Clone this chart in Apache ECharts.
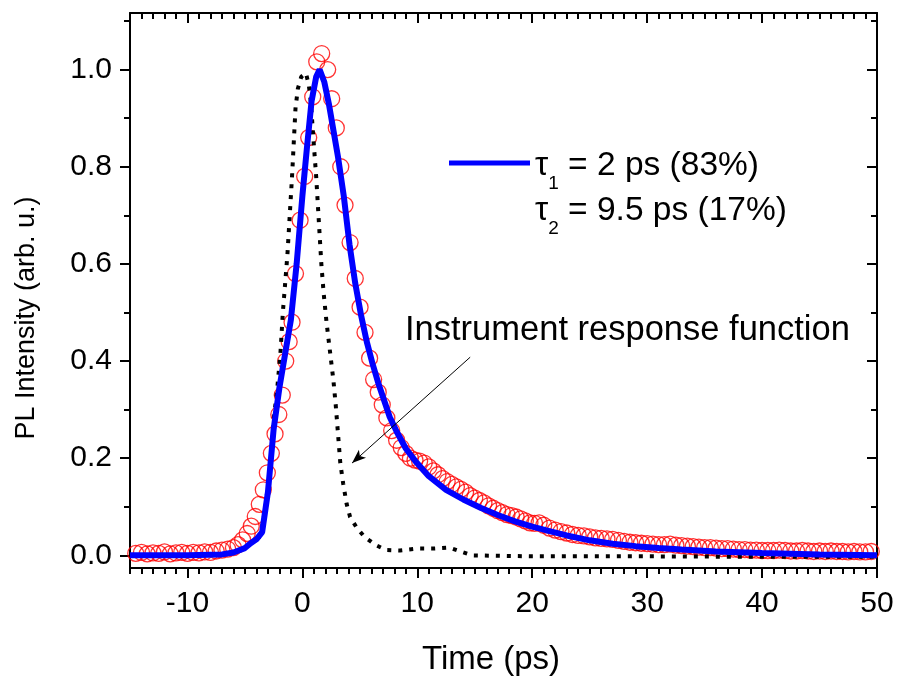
<!DOCTYPE html>
<html><head><meta charset="utf-8">
<script src="https://cdn.jsdelivr.net/npm/echarts@6/dist/echarts.min.js"></script>
<style>html,body{margin:0;padding:0;background:#fff}#c{width:901px;height:680px}</style>
</head><body><div id="c"></div>
<script>
// ---- tick labels ----
const xMajorTicks = [-10, 0, 10, 20, 30, 40, 50];
const yMajorTicks = [0, 0.2, 0.4, 0.6, 0.8, 1.0];
const yMinorTicks = [0.1, 0.3, 0.5, 0.7, 0.9, 1.1];

// ---- measured PL data (red circles) ----
const dataX = [-14.5,-14,-13.5,-13,-12.5,-12,-11.5,-11,-10.5,-10,-9.5,-9,-8.5,-8,-7.5,-7,-6.5,
  -6.0,-5.6,-5.2,-4.8,-4.45,-4.1,-3.75,-3.4,-3.05,-2.7,-2.38,-2.05,-1.75,-1.45,-1.15,-0.9,-0.6,-0.2,
  0.2,0.55,0.9,1.25,1.68,2.2,2.55,2.95,3.34,3.71,4.15,4.6,5.02,5.45,5.85,6.2,6.6,6.95,7.35,7.77,
  8.2,8.6,9.0,9.4,9.8,10.2,10.6,11.0,11.4,11.8,12.2,12.6,13.0,13.4,13.8,14.2,14.6,15.0,15.4,15.8,
  16.2,16.6,17.0,17.4,17.8,18.2,18.6,19.0,19.4,19.8,20.2,20.6,21.0,21.5,22.0,
  22.5,23,23.5,24,24.5,25,25.5,26,26.5,27,27.5,28,28.5,29,29.5,30,30.5,31,31.5,32,32.5,33,33.5,
  34,34.5,35,35.5,36,36.5,37,37.5,38,38.5,39,39.5,40,40.5,41,41.5,42,42.5,43,43.5,44,44.5,45,
  45.5,46,46.5,47,47.5,48,48.5,49,49.5];
const dataY = [0.004,0.006,0.003,0.005,0.004,0.007,0.003,0.005,0.006,0.004,0.006,0.005,0.007,0.006,0.009,0.011,0.013,
  0.016,0.022,0.032,0.045,0.06,0.08,0.105,0.135,0.17,0.21,0.25,0.29,0.33,0.40,0.44,0.48,0.58,0.69,
  0.78,0.86,0.944,1.016,1.033,1.0,0.94,0.88,0.80,0.721,0.644,0.57,0.511,0.459,0.406,0.362,0.336,0.31,0.283,0.257,
  0.237,0.222,0.21,0.2,0.196,0.194,0.19,0.182,0.174,0.166,0.158,0.152,0.146,0.141,0.136,0.13,0.123,0.118,0.113,0.108,
  0.102,0.097,0.092,0.088,0.084,0.082,0.079,0.075,0.071,0.067,0.066,0.067,0.062,0.056,0.052,
  0.049,0.046,0.043,0.041,0.040,0.038,0.036,0.035,0.034,0.033,0.031,0.029,0.027,0.026,0.025,0.024,0.023,0.022,0.022,0.023,0.021,0.020,0.019,
  0.018,0.017,0.016,0.016,0.015,0.014,0.014,0.013,0.012,0.012,0.011,0.011,0.010,0.010,0.010,0.011,0.010,0.009,0.009,0.010,0.009,0.008,0.009,
  0.008,0.009,0.008,0.008,0.007,0.008,0.007,0.007,0.008];

// ---- bi-exponential fit (blue line) ----
const fitX = [-15,-10,-7,-6,-5,-4.5,-4,-3.5,-3,-2.5,-2,-1.5,-1,-0.5,0,0.4,0.8,1.2,1.5,1.9,2.3,2.7,3.1,3.6,4.1,4.6,5.1,5.6,6.1,6.6,7.1,7.6,8.2,9,9.8,11,12.5,14,15.5,17,18.5,20,21.5,23,25,27,29,31,33,36,40,45,50];
const fitY = [0,0,0.002,0.006,0.015,0.025,0.033,0.048,0.13,0.26,0.345,0.415,0.485,0.6,0.74,0.84,0.935,0.985,1.0,0.975,0.93,0.875,0.82,0.74,0.64,0.56,0.495,0.44,0.395,0.355,0.32,0.285,0.255,0.22,0.195,0.163,0.135,0.115,0.098,0.083,0.07,0.059,0.05,0.041,0.031,0.024,0.019,0.015,0.012,0.008,0.005,0.002,0.0];

// ---- instrument response function (black dots) ----
const irfX = [-3.8,-3.5,-3.2,-2.96,-2.7,-2.5,-2.2,-1.9,-1.7,-1.5,-1.3,-1.1,-0.9,-0.75,-0.6,-0.4,-0.1,0.3,0.55,0.75,0.95,1.2,1.45,1.65,1.85,2.1,2.4,2.7,2.9,3.1,3.3,3.55,3.85,4.15,4.7,5.4,6.4,7.3,8.5,10,11.5,12.8,13.9,14.8,20,30,40,50];
const irfY = [0.035,0.06,0.10,0.154,0.22,0.28,0.34,0.42,0.50,0.56,0.62,0.70,0.78,0.85,0.92,0.96,0.985,0.993,0.97,0.93,0.86,0.78,0.68,0.60,0.54,0.48,0.42,0.36,0.31,0.25,0.19,0.148,0.106,0.079,0.058,0.038,0.021,0.011,0.010,0.014,0.014,0.016,0.007,0.0,-0.002,-0.002,-0.003,-0.003];

// annotation arrow (data coords)
const arrowFrom = [14.6, 0.408];
const arrowTo = [4.32, 0.19];

const zip = (a, b) => a.map((v, i) => [v, b[i]]);
const FONT = "'Liberation Sans', Arial, sans-serif";
const X_MIN = -15, X_MAX = 50, Y_MIN = -0.026, Y_MAX = 1.1165;

const axLine = { show: true, onZero: false, lineStyle: { color: '#000', width: 2 } };
const noLine = { show: false, onZero: false };
const baseX = { type: 'value', min: X_MIN, max: X_MAX, splitLine: { show: false } };
const baseY = { type: 'value', min: Y_MIN, max: Y_MAX, splitLine: { show: false } };

const chart = echarts.init(document.getElementById('c'));
chart.setOption({
  animation: false,
  backgroundColor: '#fff',
  grid: { left: 130, right: 24, top: 13, bottom: 112, containLabel: false },
  xAxis: [
    Object.assign({}, baseX, {
      position: 'bottom', axisLine: axLine,
      axisTick: { show: true, inside: false, length: 10, lineStyle: { color: '#000', width: 2 }, customValues: xMajorTicks },
      axisLabel: { show: true, customValues: xMajorTicks, margin: 21, fontSize: 30, color: '#000', fontFamily: FONT, showMinLabel: true, showMaxLabel: true }
    }),
    Object.assign({}, baseX, {
      position: 'bottom', interval: 1, axisLine: noLine,
      axisTick: { show: true, inside: false, length: 6, lineStyle: { color: '#000', width: 2 } },
      axisLabel: { show: false }
    }),
    Object.assign({}, baseX, {
      position: 'top', axisLine: axLine,
      axisTick: { show: true, inside: true, length: 10, lineStyle: { color: '#000', width: 2 }, customValues: xMajorTicks },
      axisLabel: { show: false }
    }),
    Object.assign({}, baseX, {
      position: 'top', interval: 1, axisLine: noLine,
      axisTick: { show: true, inside: true, length: 6, lineStyle: { color: '#000', width: 2 } },
      axisLabel: { show: false }
    })
  ],
  yAxis: [
    Object.assign({}, baseY, {
      position: 'left', axisLine: axLine,
      axisTick: { show: true, inside: false, length: 10, lineStyle: { color: '#000', width: 2 }, customValues: yMajorTicks },
      axisLabel: { show: true, customValues: yMajorTicks, margin: 18, fontSize: 30, color: '#000', fontFamily: FONT,
        formatter: v => v.toFixed(1) }
    }),
    Object.assign({}, baseY, {
      position: 'left', axisLine: noLine,
      axisTick: { show: true, inside: false, length: 6, lineStyle: { color: '#000', width: 2 }, customValues: yMinorTicks },
      axisLabel: { show: false }
    }),
    Object.assign({}, baseY, {
      position: 'right', axisLine: axLine,
      axisTick: { show: true, inside: true, length: 10, lineStyle: { color: '#000', width: 2 }, customValues: yMajorTicks },
      axisLabel: { show: false }
    }),
    Object.assign({}, baseY, {
      position: 'right', axisLine: noLine,
      axisTick: { show: true, inside: true, length: 6, lineStyle: { color: '#000', width: 2 }, customValues: yMinorTicks },
      axisLabel: { show: false }
    })
  ],
  series: [
    {
      name: 'data', type: 'scatter', xAxisIndex: 0, yAxisIndex: 0,
      data: zip(dataX, dataY), symbol: 'circle', symbolSize: 16,
      itemStyle: { color: 'rgba(0,0,0,0)', borderColor: '#ff0000', borderWidth: 1.3 },
      z: 2
    },
    {
      name: 'IRF', type: 'line', xAxisIndex: 0, yAxisIndex: 0,
      data: zip(irfX, irfY), showSymbol: false, smooth: false,
      lineStyle: { color: '#000', width: 4, type: [4, 7], cap: 'butt' },
      z: 3,
      markLine: {
        silent: true, symbol: ['none', 'arrow'], symbolSize: [8, 14],
        lineStyle: { color: '#000', width: 1, type: 'solid' },
        label: { show: false },
        data: [[{ coord: arrowFrom }, { coord: arrowTo }]]
      }
    },
    {
      name: 'fit', type: 'line', xAxisIndex: 0, yAxisIndex: 0,
      data: zip(fitX, fitY), showSymbol: false, smooth: false,
      lineStyle: { color: '#0000ff', width: 6 },
      z: 4
    }
  ],
  graphic: [
    { type: 'text', x: 27, y: 318, rotation: Math.PI / 2, z: 10, style: {
        text: 'PL Intensity (arb. u.)', align: 'center', verticalAlign: 'middle',
        fontSize: 27, fontFamily: FONT, fill: '#000' } },
    { type: 'text', x: 491, y: 660, z: 10, style: {
        text: 'Time (ps)', align: 'center', verticalAlign: 'middle',
        fontSize: 33, fontFamily: FONT, fill: '#000' } },
    { type: 'line', shape: { x1: 449, y1: 163, x2: 530, y2: 163 }, style: { stroke: '#0000ff', lineWidth: 5 }, z: 10 },
    { type: 'text', x: 535, y: 166, z: 10, style: {
        text: '{t|τ}{s|1}{t| = 2 ps (83%)}', verticalAlign: 'middle', align: 'left',
        rich: {
          t: { fontSize: 33.5, fontFamily: FONT, fill: '#000', lineHeight: 38 },
          s: { fontSize: 19, fontFamily: FONT, fill: '#000', lineHeight: 19, padding: [35, 0, 0, 0] }
        } } },
    { type: 'text', x: 535, y: 211, z: 10, style: {
        text: '{t|τ}{s|2}{t| = 9.5 ps (17%)}', verticalAlign: 'middle', align: 'left',
        rich: {
          t: { fontSize: 33.5, fontFamily: FONT, fill: '#000', lineHeight: 38 },
          s: { fontSize: 19, fontFamily: FONT, fill: '#000', lineHeight: 19, padding: [35, 0, 0, 0] }
        } } },
    { type: 'text', x: 405, y: 330, z: 10, style: {
        text: 'Instrument response function', verticalAlign: 'middle', align: 'left',
        fontSize: 34.5, fontFamily: FONT, fill: '#000' } }
  ]
});
</script>
</body></html>
